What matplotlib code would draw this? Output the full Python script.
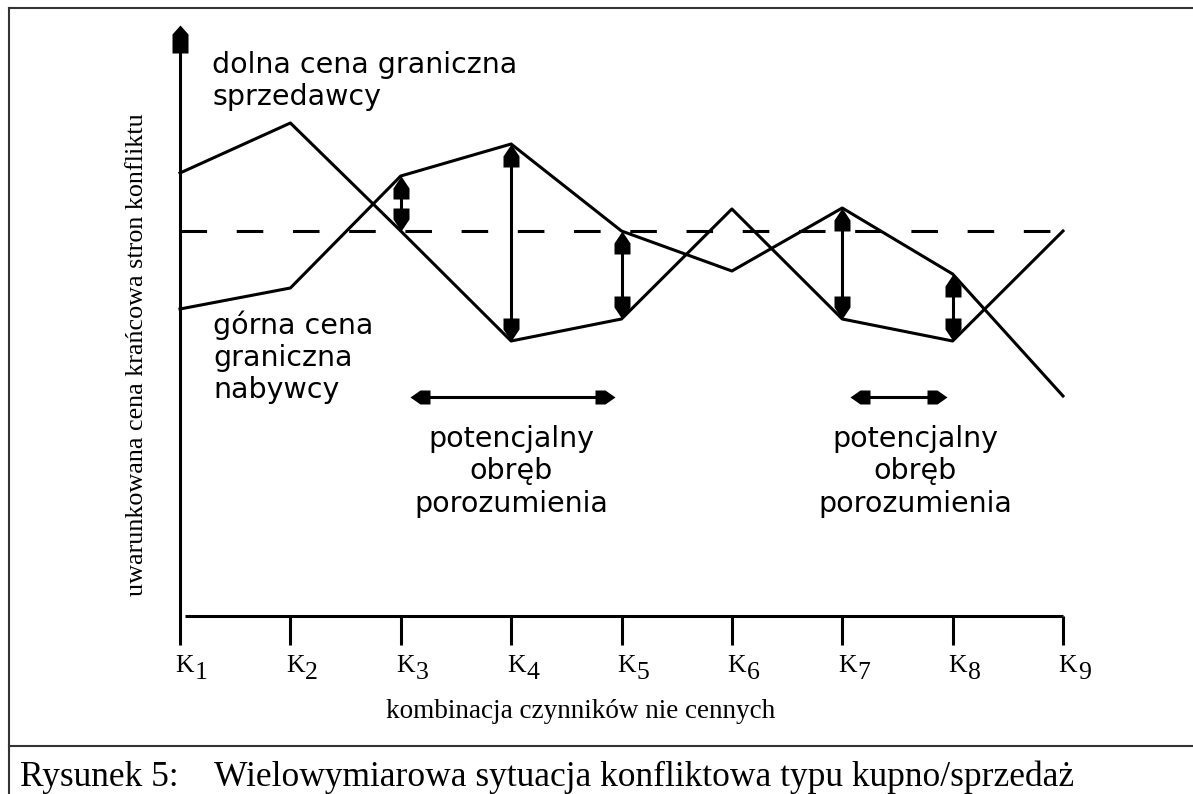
import numpy as np
import matplotlib
matplotlib.use("Agg")
import matplotlib.pyplot as plt
from matplotlib.path import Path
from matplotlib.markers import MarkerStyle
from matplotlib.transforms import Affine2D
from matplotlib.lines import Line2D

# K index of each combination
ks = np.arange(1, 10)
k_labels = ["1", "2", "3", "4", "5", "6", "7", "8", "9"]

# upper line at K1: lower limit price of the seller
seller = [44.3, 49.3, 38.5, 27.5, 29.7, 40.7, 29.7, 27.5, 38.5]
# lower line at K1: upper limit price of the buyer
buyer = [30.7, 32.8, 44.0, 47.2, 38.5, 34.5, 40.8, 34.2, 22.0]
# dashed reference level
level = 38.5

# K positions with vertical double arrows
gap_ks = [3, 4, 5, 7, 8]
# horizontal "potential agreement" ranges
zones = [(3.08, 4.94), (7.07, 7.95)]
zone_y = 21.9
zone_centers = [4.0, 7.66]

serif = "Liberation Serif"
sans = "DejaVu Sans"
lw = 2.2
W, H = 1193, 794

fig = plt.figure(figsize=(W / 100, H / 100), dpi=100)
ax = fig.add_axes([0, 0, 1, 1])
ax.set_xlim(1 - 180 / 110.375, 1 + 1013 / 110.375)
ax.set_ylim(-17.8, 61.6)
ax.axis("off")


def head(length, width, neck):
    verts = [(0, 0), (width / 2, -neck), (width / 2, -length),
             (-width / 2, -length), (-width / 2, -neck), (0, 0)]
    codes = [Path.MOVETO] + [Path.LINETO] * 4 + [Path.CLOSEPOLY]
    return Path(verts, codes)


def draw_head(x, y, angle, length=23, width=16, neck=12):
    m = MarkerStyle(head(length, width, neck), transform=Affine2D().rotate_deg(angle))
    ax.plot([x], [y], marker=m, markersize=2 * length * 0.72,
            color="black", markeredgewidth=0, zorder=5)


# axes
ax.plot([1, 1], [-2.9, 57.5], color="black", lw=lw, solid_capstyle="butt")
draw_head(1, 59.1, 0, length=28, width=16, neck=9)
ax.plot([1.045, 9], [0, 0], color="black", lw=lw, solid_capstyle="butt")
for k in ks[1:]:
    ax.plot([k, k], [0, -2.9], color="black", lw=lw, solid_capstyle="butt")

for k, lab in zip(ks, k_labels):
    ax.annotate("K", (k, -2.9), xytext=(5, -10), textcoords="offset pixels",
                ha="center", va="top", fontsize=18.5, family=serif)
    ax.annotate(lab, (k, -2.9), xytext=(15, -17), textcoords="offset pixels",
                ha="left", va="top", fontsize=18.5, family=serif)

# dashed level
ax.plot([1, 9], [level, level], color="black", lw=lw,
        linestyle=(0, (8.7, 9.7)))

# price lines
ax.plot(ks, seller, color="black", lw=lw)
ax.plot(ks, buyer, color="black", lw=lw)

# vertical double arrows between the lines
for k in gap_ks:
    lo = min(seller[k - 1], buyer[k - 1])
    hi = max(seller[k - 1], buyer[k - 1])
    ax.plot([k, k], [lo + 1, hi - 1], color="black", lw=lw)
    draw_head(k, hi, 0)
    draw_head(k, lo, 180)

# horizontal double arrows
for a, b in zones:
    ax.plot([a + 0.1, b - 0.1], [zone_y, zone_y], color="black", lw=lw)
    draw_head(a, zone_y, 90, length=20, width=14, neck=10)
    draw_head(b, zone_y, -90, length=20, width=14, neck=10)

# annotations
ax.text(1.29, 56.5, "dolna cena graniczna\nsprzedawcy", ha="left", va="top",
        fontsize=20.5, family=sans)
ax.text(1.30, 30.6, "górna cena\ngraniczna\nnabywcy", ha="left", va="top",
        fontsize=20.5, family=sans)
for c in zone_centers:
    ax.text(c, 19.1, "potencjalny\nobręb\nporozumienia", ha="center", va="top",
            fontsize=20.5, family=sans)

# axis titles
fig.text(386 / W, 1 - 711 / H, "kombinacja czynników nie cennych",
         ha="left", va="center", fontsize=19.5, family=serif)
fig.text(137 / W, 1 - 355 / H, "uwarunkowana cena krańcowa stron konfliktu",
         ha="center", va="center", rotation=90, fontsize=18.8, family=serif)

# caption and frame
fig.text(20 / W, 1 - 786 / H, "Rysunek 5:", ha="left", va="baseline",
         fontsize=25.5, family=serif)
fig.text(214 / W, 1 - 786 / H,
         "Wielowymiarowa sytuacja konfliktowa typu kupno/sprzedaż",
         ha="left", va="baseline", fontsize=25.5, family=serif)
frame = "#333333"
fig.add_artist(Line2D([9 / W, 1], [1 - 7.5 / H, 1 - 7.5 / H], color=frame, lw=1.5))
fig.add_artist(Line2D([9 / W, 9 / W], [0, 1 - 7.5 / H], color=frame, lw=1.5))
fig.add_artist(Line2D([9 / W, 1], [1 - 746 / H, 1 - 746 / H], color=frame, lw=1.5))

fig.savefig("out.png", dpi=100, facecolor="white")
